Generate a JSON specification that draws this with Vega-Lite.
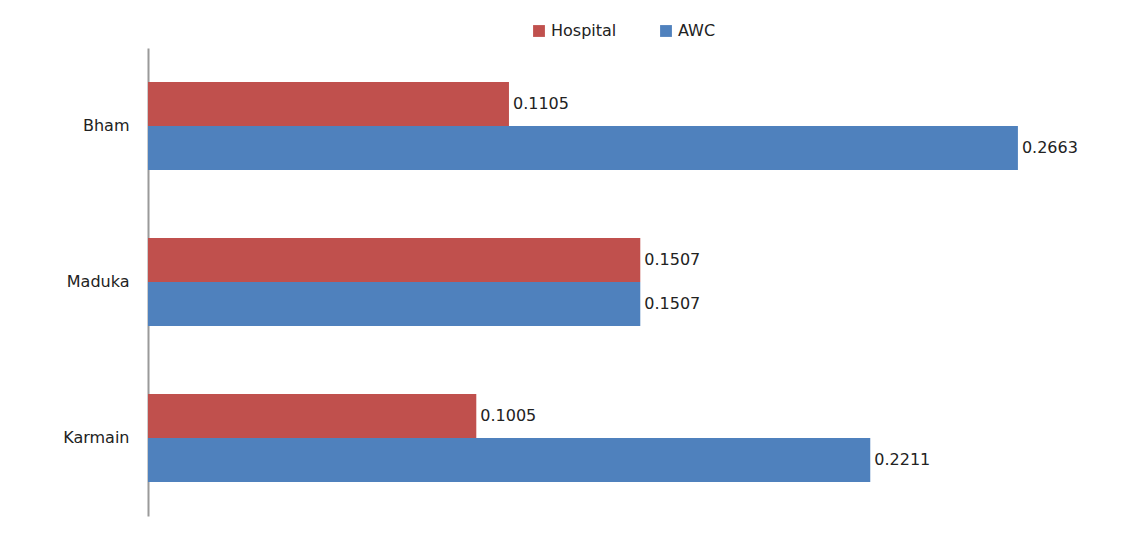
{
  "$schema": "https://vega.github.io/schema/vega-lite/v6.json",
  "autosize": "none",
  "width": 980,
  "height": 468,
  "padding": {"left": 148, "top": 48, "right": 20, "bottom": 17},
  "background": "white",
  "config": {
    "font": "DejaVu Sans",
    "view": {"stroke": null},
    "axis": {"grid": false}
  },
  "data": {
    "values": [
      {"Village": "Bham", "Series": "Hospital", "Value": 0.1105},
      {"Village": "Bham", "Series": "AWC", "Value": 0.2663},
      {"Village": "Maduka", "Series": "Hospital", "Value": 0.1507},
      {"Village": "Maduka", "Series": "AWC", "Value": 0.1507},
      {"Village": "Karmain", "Series": "Hospital", "Value": 0.1005},
      {"Village": "Karmain", "Series": "AWC", "Value": 0.2211}
    ]
  },
  "encoding": {
    "y": {
      "field": "Village",
      "type": "nominal",
      "sort": ["Bham", "Maduka", "Karmain"],
      "scale": {"paddingInner": 0.436, "paddingOuter": 0.218},
      "axis": {
        "title": null,
        "ticks": false,
        "domainColor": "#9a9a9a",
        "domainWidth": 2,
        "labelPadding": 19,
        "labelFontSize": 16,
        "labelColor": "#222222"
      }
    },
    "yOffset": {
      "field": "Series",
      "type": "nominal",
      "sort": ["Hospital", "AWC"],
      "scale": {"paddingInner": 0, "paddingOuter": 0}
    },
    "x": {
      "field": "Value",
      "type": "quantitative",
      "scale": {"domain": [0, 0.3]},
      "axis": null
    }
  },
  "layer": [
    {
      "mark": {"type": "bar"},
      "encoding": {
        "color": {
          "field": "Series",
          "type": "nominal",
          "scale": {"domain": ["Hospital", "AWC"], "range": ["#C0504D", "#4F81BD"]},
          "legend": {
            "orient": "none",
            "legendX": 383,
            "legendY": -25,
            "direction": "horizontal",
            "title": null,
            "symbolType": "square",
            "symbolSize": 140,
            "symbolStrokeWidth": 0,
            "labelFontSize": 16,
            "labelColor": "#222222",
            "labelOffset": 4,
            "columnPadding": 41
          }
        }
      }
    },
    {
      "mark": {"type": "text", "align": "left", "baseline": "middle", "dx": 4, "fontSize": 16, "color": "#222222"},
      "encoding": {
        "text": {"field": "Value", "type": "quantitative", "format": ".4f"}
      }
    }
  ]
}
